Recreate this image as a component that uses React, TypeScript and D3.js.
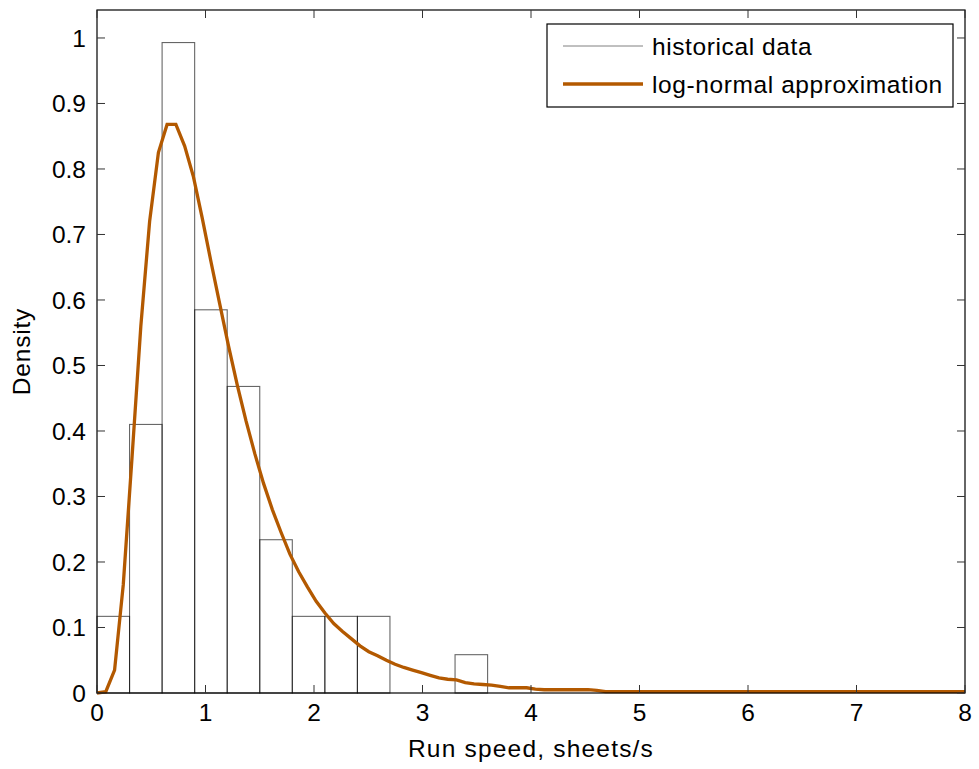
import React from "react";
import * as d3 from "d3";

// Histogram bins (left edges) and densities
const binEdges = [0, 0.3, 0.6, 0.9, 1.2, 1.5, 1.8, 2.1, 2.4, 2.7, 3.0, 3.3];
const binWidth = 0.3;
const binDensity = [0.117, 0.41, 0.993, 0.585, 0.468, 0.234, 0.117, 0.117, 0.117, 0, 0, 0.0585];

// Log-normal approximation curve
const curveX = [
  0, 0.081, 0.162, 0.242, 0.323, 0.404, 0.485, 0.566, 0.646, 0.727,
  0.808, 0.889, 0.970, 1.051, 1.131, 1.212, 1.293, 1.374, 1.455, 1.535,
  1.616, 1.697, 1.778, 1.859, 1.939, 2.020, 2.101, 2.182, 2.263, 2.343,
  2.424, 2.505, 2.586, 2.667, 2.747, 2.828, 2.909, 2.990, 3.071, 3.152,
  3.232, 3.313, 3.394, 3.475, 3.556, 3.636, 3.717, 3.798, 3.879, 3.960,
  4.040, 4.121, 4.202, 4.283, 4.364, 4.444, 4.525, 4.606, 4.687, 6.0, 8.0,
];
const curveY = [
  0, 0.002, 0.035, 0.165, 0.36, 0.56, 0.72, 0.825, 0.868, 0.868,
  0.835, 0.788, 0.725, 0.658, 0.594, 0.53, 0.47, 0.415, 0.365, 0.32,
  0.28, 0.245, 0.212, 0.185, 0.162, 0.14, 0.122, 0.106, 0.094, 0.083,
  0.072, 0.063, 0.057, 0.05, 0.044, 0.039, 0.035, 0.031, 0.027, 0.023,
  0.021, 0.02, 0.016, 0.014, 0.013, 0.012, 0.01, 0.008, 0.008, 0.008,
  0.006, 0.005, 0.005, 0.005, 0.005, 0.005, 0.005, 0.004, 0.002, 0.002, 0.002,
];

const xTicks = [0, 1, 2, 3, 4, 5, 6, 7, 8];
const yTicks = [0, 0.1, 0.2, 0.3, 0.4, 0.5, 0.6, 0.7, 0.8, 0.9, 1];
const legendLabels = ["historical data", "log-normal approximation"];

const W = 979;
const H = 769;
const M = { left: 97, right: 965, top: 10, bottom: 693 };
const ORANGE = "#b35900";
const FONT = "Liberation Sans, Arial, sans-serif";
const FS = 24.5;

export default function App() {
  const x = d3.scaleLinear().domain([0, 8]).range([M.left, M.right]);
  const y = d3.scaleLinear().domain([0, 1.0427]).range([M.bottom, M.top]);
  const line = d3
    .line<number>()
    .x((_, i) => x(curveX[i]))
    .y((d) => y(d));
  const tickLen = 8;

  return (
    <svg
      width={W}
      height={H}
      style={{ position: "absolute", left: 0, top: 0, background: "#fff" }}
      fontFamily={FONT}
    >
      <rect x={0} y={0} width={W} height={H} fill="#fff" />
      {/* histogram */}
      {binEdges.map((e, i) => (
        <rect
          key={i}
          x={x(e)}
          y={y(binDensity[i])}
          width={x(e + binWidth) - x(e)}
          height={y(0) - y(binDensity[i])}
          fill="none"
          stroke="#000"
          strokeOpacity={0.6}
          strokeWidth={1.1}
        />
      ))}
      {/* curve */}
      <path
        d={line(curveY) || ""}
        fill="none"
        stroke={ORANGE}
        strokeWidth={3.3}
        strokeLinejoin="miter"
      />
      {/* axes box */}
      <rect
        x={M.left}
        y={M.top}
        width={M.right - M.left}
        height={M.bottom - M.top}
        fill="none"
        stroke="#000"
        strokeWidth={1.2}
      />
      {/* x ticks */}
      {xTicks.map((t) => (
        <g key={"x" + t}>
          <line x1={x(t)} x2={x(t)} y1={M.bottom} y2={M.bottom - tickLen} stroke="#333" />
          <line x1={x(t)} x2={x(t)} y1={M.top} y2={M.top + tickLen} stroke="#333" />
          <text x={x(t)} y={721} textAnchor="middle" fontSize={FS} fill="#000">
            {d3.format("d")(t)}
          </text>
        </g>
      ))}
      {/* y ticks */}
      {yTicks.map((t) => (
        <g key={"y" + t}>
          <line x1={M.left} x2={M.left + tickLen} y1={y(t)} y2={y(t)} stroke="#333" />
          <line x1={M.right} x2={M.right - tickLen} y1={y(t)} y2={y(t)} stroke="#333" />
          <text x={86} y={y(t)} dy="0.35em" textAnchor="end" fontSize={FS} fill="#000">
            {String(t)}
          </text>
        </g>
      ))}
      {/* axis labels */}
      <text
        x={(M.left + M.right) / 2}
        y={757}
        textAnchor="middle"
        fontSize={FS}
        fill="#000"
        style={{ letterSpacing: "1.2px" }}
      >
        Run speed, sheets/s
      </text>
      <text
        transform={`translate(30, ${(M.top + M.bottom) / 2}) rotate(-90)`}
        textAnchor="middle"
        fontSize={FS}
        fill="#000"
        style={{ letterSpacing: "0.8px" }}
      >
        Density
      </text>
      {/* legend */}
      <rect x={547} y={24} width={406} height={83} fill="#fff" stroke="#000" strokeWidth={1.2} />
      <line x1={563} x2={643} y1={46} y2={46} stroke="#808080" strokeWidth={1} />
      <line x1={563} x2={643} y1={84} y2={84} stroke={ORANGE} strokeWidth={3.3} />
      <text x={652} y={46} dy="0.35em" fontSize={FS} fill="#000" style={{ letterSpacing: "0.6px" }}>
        {legendLabels[0]}
      </text>
      <text x={652} y={84} dy="0.35em" fontSize={FS} fill="#000" style={{ letterSpacing: "0.6px" }}>
        {legendLabels[1]}
      </text>
    </svg>
  );
}
